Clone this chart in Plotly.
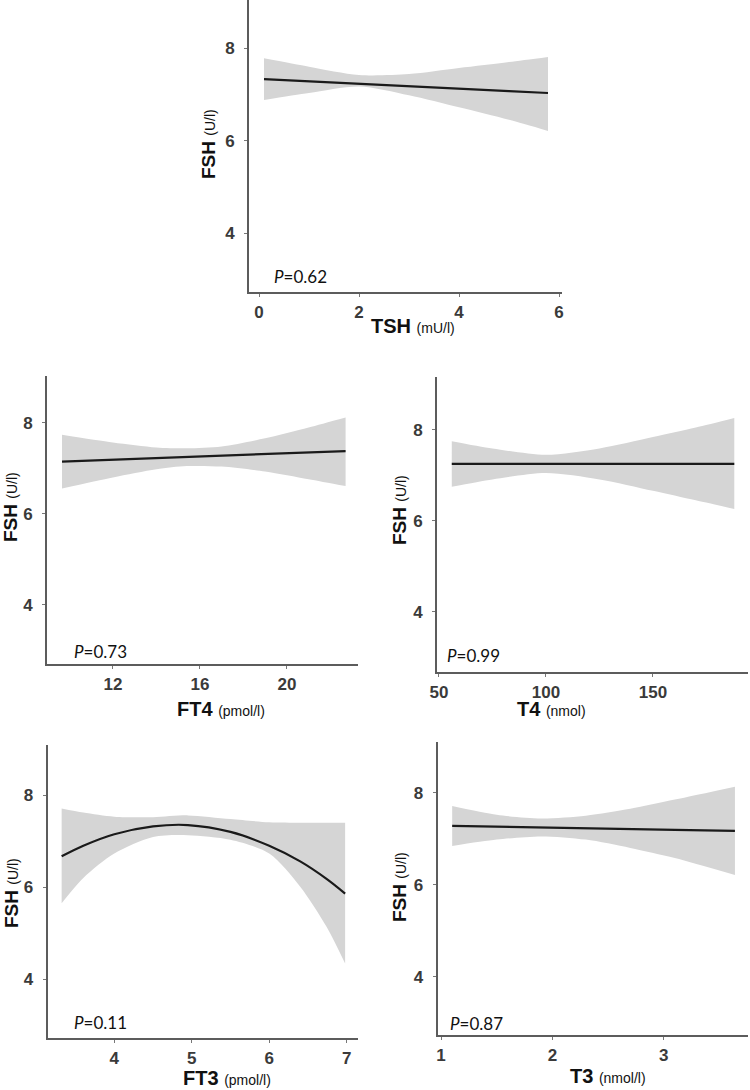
import plotly.graph_objects as go

W, H = 750, 1090

# ---------------- data ----------------
tsh_x = [0.1, 1, 2, 3, 4, 5, 5.78]
tsh_fit = [7.33, 7.28, 7.23, 7.17, 7.12, 7.07, 7.03]
tsh_upper = [7.78, 7.60, 7.42, 7.44, 7.57, 7.70, 7.81]
tsh_lower = [6.88, 7.03, 7.17, 6.98, 6.72, 6.45, 6.21]

ft4_x = [9.66, 12, 14, 15.4, 17, 19, 21, 22.7]
ft4_fit = [7.15, 7.19, 7.23, 7.25, 7.28, 7.31, 7.35, 7.38]
ft4_upper = [7.74, 7.57, 7.46, 7.44, 7.48, 7.66, 7.90, 8.12]
ft4_lower = [6.56, 6.80, 6.98, 7.05, 7.04, 6.93, 6.76, 6.61]

t4_x = [56, 75, 100, 125, 150, 170, 188]
t4_fit = [7.25, 7.25, 7.25, 7.25, 7.25, 7.25, 7.25]
t4_upper = [7.75, 7.59, 7.45, 7.59, 7.84, 8.05, 8.26]
t4_lower = [6.75, 6.91, 7.05, 6.91, 6.66, 6.45, 6.26]

ft3_x = [3.32, 3.6, 4.0, 4.5, 4.95, 5.5, 6.0, 6.4, 6.74, 6.98]
ft3_fit = [6.67, 6.90, 7.15, 7.32, 7.35, 7.20, 6.90, 6.56, 6.18, 5.86]
ft3_upper = [7.71, 7.62, 7.53, 7.52, 7.56, 7.48, 7.41, 7.40, 7.40, 7.40]
ft3_lower = [5.65, 6.20, 6.73, 7.09, 7.13, 7.03, 6.73, 6.01, 5.14, 4.34]

t3_x = [1.1, 1.5, 1.9, 2.3, 2.7, 3.1, 3.64]
t3_fit = [7.28, 7.26, 7.25, 7.23, 7.21, 7.19, 7.17]
t3_upper = [7.71, 7.52, 7.44, 7.50, 7.65, 7.85, 8.13]
t3_lower = [6.84, 6.98, 7.05, 6.98, 6.80, 6.58, 6.21]

y_ticks = [4, 6, 8]
tsh_ticks = [0, 2, 4, 6]
ft4_ticks = [12, 16, 20]
t4_ticks = [50, 100, 150]
ft3_ticks = [4, 5, 6, 7]
t3_ticks = [1, 2, 3]

p_labels = ["0.62", "0.73", "0.99", "0.11", "0.87"]
x_names = ["TSH", "FT4", "T4", "FT3", "T3"]
x_units = ["(mU/l)", "(pmol/l)", "(nmol)", "(pmol/l)", "(nmol/l)"]
y_name = "FSH"
y_unit = "(U/l)"

# ---------------- layout (pixel boxes) ----------------
def px(x):
    return x / W

def py(y):
    return 1 - y / H

panels = [
    dict(x=tsh_x, fit=tsh_fit, up=tsh_upper, lo=tsh_lower, ticks=tsh_ticks,
         box=(249, 562, 0, 292), xr=[-0.2, 6.06], yr=[2.73, 9.04], spline=False,
         ptxt=(272, 276), xt=(413, 326), yt=(208, 144)),
    dict(x=ft4_x, fit=ft4_fit, up=ft4_upper, lo=ft4_lower, ticks=ft4_ticks,
         box=(47, 358, 376, 664), xr=[8.97, 23.27], yr=[2.70, 9.03], spline=False,
         ptxt=(72, 651), xt=(221, 709), yt=(11, 507)),
    dict(x=t4_x, fit=t4_fit, up=t4_upper, lo=t4_lower, ticks=t4_ticks,
         box=(437, 748, 377, 672), xr=[49.1, 194.4], yr=[2.68, 9.16], spline=False,
         ptxt=(445, 655), xt=(551, 709), yt=(399, 510)),
    dict(x=ft3_x, fit=ft3_fit, up=ft3_upper, lo=ft3_lower, ticks=ft3_ticks,
         box=(47.7, 358.3, 745, 1038), xr=[3.14, 7.15], yr=[2.72, 9.09], spline=True,
         ptxt=(72, 1022), xt=(227, 1078), yt=(11, 893)),
    dict(x=t3_x, fit=t3_fit, up=t3_upper, lo=t3_lower, ticks=t3_ticks,
         box=(437.7, 748.3, 741.7, 1035), xr=[0.97, 3.76], yr=[2.73, 9.11], spline=False,
         ptxt=(448, 1023), xt=(608, 1076), yt=(399, 887)),
]

fig = go.Figure()
layout = dict(
    template="none",
    width=W, height=H, margin=dict(l=0, r=0, t=0, b=0, pad=0),
    paper_bgcolor="white", plot_bgcolor="white", showlegend=False,
    font=dict(family="Liberation Sans, Arial, sans-serif", color="#333333"),
)
annotations = []

axis_common = dict(
    showline=True, linecolor="#5c5c5c", linewidth=2, mirror=False,
    showgrid=False, zeroline=False, ticks="outside", ticklen=3,
    tickcolor="#777777", tickwidth=1, automargin=False,
    tickfont=dict(family="Liberation Sans, Arial, sans-serif", size=17, color="#3a3a3a", weight="bold"),
)

for i, p in enumerate(panels, start=1):
    xa = "x" if i == 1 else f"x{i}"
    ya = "y" if i == 1 else f"y{i}"
    shape = "spline" if p["spline"] else "linear"
    fig.add_trace(go.Scatter(
        x=p["x"], y=p["lo"], mode="lines",
        line=dict(width=0, shape="spline", smoothing=0.8, color="rgba(0,0,0,0)"),
        hoverinfo="skip", xaxis=xa, yaxis=ya,
    ))
    fig.add_trace(go.Scatter(
        x=p["x"], y=p["up"], mode="lines", fill="tonexty", fillcolor="#d5d5d5",
        line=dict(width=0, shape="spline", smoothing=0.8, color="rgba(0,0,0,0)"),
        hoverinfo="skip", xaxis=xa, yaxis=ya,
    ))
    fig.add_trace(go.Scatter(
        x=p["x"], y=p["fit"], mode="lines",
        line=dict(color="#1a1a1a", width=2.2, shape=shape, smoothing=1.0),
        xaxis=xa, yaxis=ya,
    ))
    x0, x1, y0, y1 = p["box"]
    layout[f"xaxis{'' if i == 1 else i}"] = dict(
        axis_common, domain=[px(x0), px(x1)], range=p["xr"],
        tickvals=p["ticks"], anchor=ya, ticklabelstandoff=1,
    )
    layout[f"yaxis{'' if i == 1 else i}"] = dict(
        axis_common, domain=[py(y1), py(y0)], range=p["yr"],
        tickvals=y_ticks, anchor=xa, ticklabelstandoff=6,
    )
    annotations.append(dict(
        x=px(p["ptxt"][0]), y=py(p["ptxt"][1]), xref="paper", yref="paper",
        xanchor="left", yanchor="middle", showarrow=False,
        text=f"<i>P</i>={p_labels[i-1]}",
        font=dict(family="Lato, Open Sans, sans-serif", size=17, color="#111111"),
    ))
    annotations.append(dict(
        x=px(p["xt"][0]), y=py(p["xt"][1]), xref="paper", yref="paper",
        xanchor="center", yanchor="middle", showarrow=False,
        text=f"<b>{x_names[i-1]}</b> <span style='font-size:14px'>{x_units[i-1]}</span>",
        font=dict(family="Liberation Sans, Arial, sans-serif", size=20, color="#111111"),
    ))
    annotations.append(dict(
        x=px(p["yt"][0]), y=py(p["yt"][1]), xref="paper", yref="paper",
        xanchor="center", yanchor="middle", showarrow=False, textangle=-90,
        text=f"<b>{y_name}</b> <span style='font-size:14px'>{y_unit}</span>",
        font=dict(family="Liberation Sans, Arial, sans-serif", size=19, color="#111111"),
    ))

layout["annotations"] = annotations
fig.update_layout(**layout)
fig.write_html(
    "out.html",
    config={"displayModeBar": False},
    post_script="document.body.style.margin='0';document.body.style.padding='0';document.body.style.overflow='hidden';",
)
